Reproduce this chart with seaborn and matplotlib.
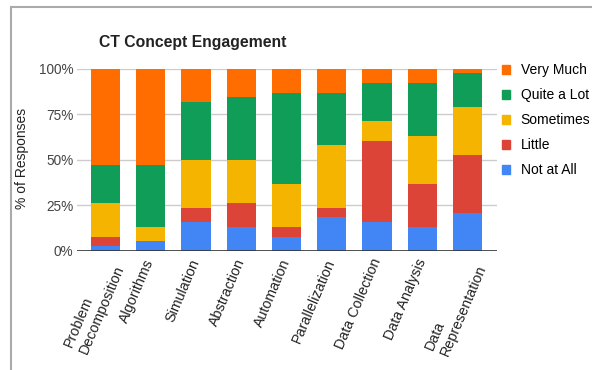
import pandas as pd
import seaborn as sns
import matplotlib.pyplot as plt
from matplotlib.lines import Line2D
from matplotlib.transforms import ScaledTranslation
from matplotlib.ticker import PercentFormatter

# =============================
# Data (response counts, 38 responses per concept)
# =============================
concepts = ["Problem\nDecomposition", "Algorithms", "Simulation", "Abstraction",
            "Automation", "Parallelization", "Data Collection", "Data Analysis",
            "Data\nRepresentation"]
levels = ["Very Much", "Quite a Lot", "Sometimes", "Little", "Not at All"]

very_much = [20, 20, 7, 6, 5, 5, 3, 3, 1]
quite_a_lot = [8, 13, 12, 13, 19, 11, 8, 11, 7]
sometimes = [7, 3, 10, 9, 9, 13, 4, 10, 10]
little = [2, 0, 3, 5, 2, 2, 17, 9, 12]
not_at_all = [1, 2, 6, 5, 3, 7, 6, 5, 8]

colors = ["#FF6D01", "#0F9D58", "#F4B400", "#DB4437", "#4285F4"]

# =============================
# Long format
# =============================
rows = []
for lvl, vals in zip(levels, [very_much, quite_a_lot, sometimes, little, not_at_all]):
    for c, v in zip(concepts, vals):
        rows.append({"Concept": c, "Level": lvl, "Count": v})
df = pd.DataFrame(rows)

# =============================
# Plot
# =============================
plt.rcParams["font.family"] = ["Liberation Sans", "DejaVu Sans"]
fig = plt.figure(figsize=(5.92, 3.70), dpi=100)
ax = fig.add_axes([77 / 592, 1 - 251 / 370, 420 / 592, 182.5 / 370])

sns.histplot(
    data=df, x="Concept", hue="Level", weights="Count",
    hue_order=levels, palette=colors, multiple="fill",
    discrete=True, shrink=0.647, alpha=1, linewidth=0,
    ax=ax, zorder=2,
)

ax.set_xlim(-0.625, 8.65)
ax.set_ylim(0, 1)
ax.set_yticks([0, 0.25, 0.5, 0.75, 1.0])
ax.yaxis.set_major_formatter(PercentFormatter(1.0, decimals=0))
ax.grid(axis="y", color="#cccccc", linewidth=1, zorder=0)
ax.set_axisbelow(True)
for s in ax.spines.values():
    s.set_visible(False)
ax.axhline(0, color="#333333", linewidth=1.2, zorder=3)
ax.tick_params(axis="both", length=0)
ax.tick_params(axis="y", colors="#444444", pad=2.5, labelsize=9.8)
ax.tick_params(axis="x", colors="#222222", pad=4, labelsize=10.3)
ax.set_xlabel("")
ax.set_ylabel("")

ax.set_xticks(range(len(concepts)))
ax.set_xticklabels(concepts, rotation=67, ha="right", va="top",
                   rotation_mode="anchor", multialignment="left")
offset = ScaledTranslation(-0.065, 0, fig.dpi_scale_trans)
for lab in ax.get_xticklabels():
    lab.set_transform(lab.get_transform() + offset)

# legend
handles = [plt.Rectangle((0, 0), 1, 1, color=c) for c in colors]
ax.get_legend().remove()
fig.legend(handles, levels, loc="upper left",
           bbox_to_anchor=(502 / 592, 1 - 63 / 370), frameon=False,
           fontsize=10, handlelength=0.6, handleheight=0.6,
           handletextpad=0.75, labelspacing=0.8, borderpad=0, borderaxespad=0)

fig.text(99 / 592, 1 - 42 / 370, "CT Concept Engagement", fontsize=11.3,
         fontweight="bold", color="#222222", ha="left", va="center")
fig.text(22 / 592, 1 - 158 / 370, "% of Responses", fontsize=10,
         color="#222222", rotation=90, ha="center", va="center")

# frame lines of the screenshot
fig.add_artist(Line2D([11 / 592, 1], [1 - 6.5 / 370] * 2, color="#aaaaaa", linewidth=1.5))
fig.add_artist(Line2D([11 / 592] * 2, [0, 1 - 6.5 / 370], color="#aaaaaa", linewidth=1.5))

fig.savefig("out.png", dpi=100)
